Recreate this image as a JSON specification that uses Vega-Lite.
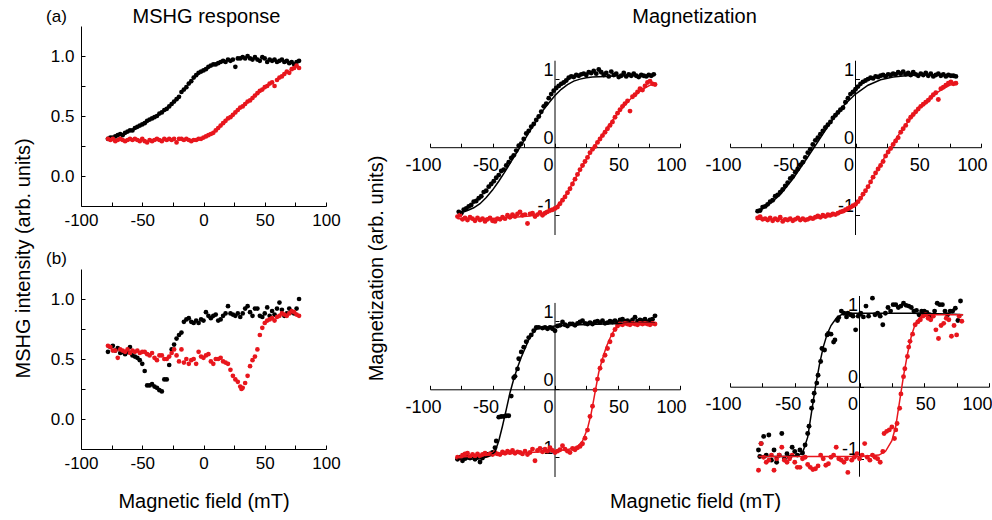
{
"$schema":"https://vega.github.io/schema/vega-lite/v6.json",
"padding":{"left":12,"top":6,"right":0,"bottom":0},
"background":"white",
"config":{"view":{"stroke":null},"font":"Liberation Sans",
"axis":{"domainColor":"black","tickColor":"black","labelColor":"black","titleColor":"black","labelFont":"Liberation Sans","titleFont":"Liberation Sans","titleFontWeight":"normal","titleFontSize":20,"grid":false,"domainWidth":1,"tickWidth":1},
"title":{"font":"Liberation Sans","fontWeight":"normal","color":"black"}},
"datasets":{
"a":[
{"x":-78,"y":0.31,"s":"b"},{"x":-76,"y":0.32,"s":"b"},{"x":-74,"y":0.32,"s":"b"},{"x":-72,"y":0.33,"s":"b"},{"x":-70,"y":0.34,"s":"b"},{"x":-68,"y":0.35,"s":"b"},{"x":-66,"y":0.34,"s":"b"},{"x":-64,"y":0.36,"s":"b"},{"x":-62,"y":0.37,"s":"b"},{"x":-60,"y":0.38,"s":"b"},{"x":-58,"y":0.38,"s":"b"},{"x":-56,"y":0.40,"s":"b"},{"x":-54,"y":0.41,"s":"b"},{"x":-52,"y":0.42,"s":"b"},{"x":-50,"y":0.43,"s":"b"},{"x":-48,"y":0.44,"s":"b"},{"x":-46,"y":0.46,"s":"b"},{"x":-44,"y":0.47,"s":"b"},{"x":-42,"y":0.48,"s":"b"},{"x":-40,"y":0.49,"s":"b"},{"x":-38,"y":0.50,"s":"b"},{"x":-36,"y":0.52,"s":"b"},{"x":-34,"y":0.53,"s":"b"},{"x":-32,"y":0.55,"s":"b"},{"x":-30,"y":0.56,"s":"b"},{"x":-28,"y":0.58,"s":"b"},{"x":-26,"y":0.60,"s":"b"},{"x":-24,"y":0.62,"s":"b"},{"x":-22,"y":0.64,"s":"b"},{"x":-20,"y":0.66,"s":"b"},{"x":-18,"y":0.70,"s":"b"},{"x":-16,"y":0.72,"s":"b"},{"x":-14,"y":0.74,"s":"b"},{"x":-12,"y":0.77,"s":"b"},{"x":-10,"y":0.79,"s":"b"},{"x":-8,"y":0.82,"s":"b"},{"x":-6,"y":0.84,"s":"b"},{"x":-4,"y":0.86,"s":"b"},{"x":-2,"y":0.87,"s":"b"},{"x":0,"y":0.88,"s":"b"},{"x":2,"y":0.89,"s":"b"},{"x":4,"y":0.91,"s":"b"},{"x":6,"y":0.92,"s":"b"},{"x":8,"y":0.93,"s":"b"},{"x":10,"y":0.93,"s":"b"},{"x":12,"y":0.94,"s":"b"},{"x":14,"y":0.95,"s":"b"},{"x":16,"y":0.96,"s":"b"},{"x":18,"y":0.95,"s":"b"},{"x":20,"y":0.97,"s":"b"},{"x":22,"y":0.96,"s":"b"},{"x":24,"y":0.97,"s":"b"},{"x":26,"y":0.91,"s":"b"},{"x":28,"y":0.98,"s":"b"},{"x":30,"y":0.98,"s":"b"},{"x":32,"y":0.99,"s":"b"},{"x":34,"y":0.98,"s":"b"},{"x":36,"y":1.0,"s":"b"},{"x":38,"y":0.98,"s":"b"},{"x":40,"y":0.97,"s":"b"},{"x":42,"y":0.99,"s":"b"},{"x":44,"y":0.97,"s":"b"},{"x":46,"y":0.96,"s":"b"},{"x":48,"y":0.99,"s":"b"},{"x":50,"y":0.98,"s":"b"},{"x":52,"y":0.95,"s":"b"},{"x":54,"y":0.97,"s":"b"},{"x":56,"y":0.96,"s":"b"},{"x":58,"y":0.97,"s":"b"},{"x":60,"y":0.95,"s":"b"},{"x":62,"y":0.96,"s":"b"},{"x":64,"y":0.97,"s":"b"},{"x":66,"y":0.95,"s":"b"},{"x":68,"y":0.96,"s":"b"},{"x":70,"y":0.94,"s":"b"},{"x":72,"y":0.95,"s":"b"},{"x":74,"y":0.93,"s":"b"},{"x":76,"y":0.95,"s":"b"},{"x":78,"y":0.96,"s":"b"},
{"x":-78,"y":0.31,"s":"r"},{"x":-76,"y":0.30,"s":"r"},{"x":-74,"y":0.31,"s":"r"},{"x":-72,"y":0.29,"s":"r"},{"x":-70,"y":0.30,"s":"r"},{"x":-68,"y":0.31,"s":"r"},{"x":-66,"y":0.30,"s":"r"},{"x":-64,"y":0.29,"s":"r"},{"x":-62,"y":0.30,"s":"r"},{"x":-60,"y":0.31,"s":"r"},{"x":-58,"y":0.30,"s":"r"},{"x":-56,"y":0.31,"s":"r"},{"x":-54,"y":0.30,"s":"r"},{"x":-52,"y":0.29,"s":"r"},{"x":-50,"y":0.31,"s":"r"},{"x":-48,"y":0.29,"s":"r"},{"x":-46,"y":0.28,"s":"r"},{"x":-44,"y":0.30,"s":"r"},{"x":-42,"y":0.29,"s":"r"},{"x":-40,"y":0.30,"s":"r"},{"x":-38,"y":0.31,"s":"r"},{"x":-36,"y":0.30,"s":"r"},{"x":-34,"y":0.29,"s":"r"},{"x":-32,"y":0.31,"s":"r"},{"x":-30,"y":0.30,"s":"r"},{"x":-28,"y":0.31,"s":"r"},{"x":-26,"y":0.30,"s":"r"},{"x":-24,"y":0.31,"s":"r"},{"x":-22,"y":0.28,"s":"r"},{"x":-20,"y":0.31,"s":"r"},{"x":-18,"y":0.31,"s":"r"},{"x":-16,"y":0.30,"s":"r"},{"x":-14,"y":0.31,"s":"r"},{"x":-12,"y":0.30,"s":"r"},{"x":-10,"y":0.29,"s":"r"},{"x":-8,"y":0.30,"s":"r"},{"x":-6,"y":0.30,"s":"r"},{"x":-4,"y":0.31,"s":"r"},{"x":-2,"y":0.31,"s":"r"},{"x":0,"y":0.32,"s":"r"},{"x":2,"y":0.33,"s":"r"},{"x":4,"y":0.34,"s":"r"},{"x":6,"y":0.35,"s":"r"},{"x":8,"y":0.36,"s":"r"},{"x":10,"y":0.38,"s":"r"},{"x":12,"y":0.40,"s":"r"},{"x":14,"y":0.42,"s":"r"},{"x":16,"y":0.44,"s":"r"},{"x":18,"y":0.46,"s":"r"},{"x":20,"y":0.48,"s":"r"},{"x":22,"y":0.49,"s":"r"},{"x":24,"y":0.51,"s":"r"},{"x":26,"y":0.53,"s":"r"},{"x":28,"y":0.55,"s":"r"},{"x":30,"y":0.57,"s":"r"},{"x":32,"y":0.58,"s":"r"},{"x":34,"y":0.60,"s":"r"},{"x":36,"y":0.62,"s":"r"},{"x":38,"y":0.63,"s":"r"},{"x":40,"y":0.65,"s":"r"},{"x":42,"y":0.67,"s":"r"},{"x":44,"y":0.69,"s":"r"},{"x":46,"y":0.71,"s":"r"},{"x":48,"y":0.72,"s":"r"},{"x":50,"y":0.74,"s":"r"},{"x":52,"y":0.75,"s":"r"},{"x":54,"y":0.77,"s":"r"},{"x":56,"y":0.78,"s":"r"},{"x":58,"y":0.75,"s":"r"},{"x":60,"y":0.80,"s":"r"},{"x":62,"y":0.82,"s":"r"},{"x":64,"y":0.83,"s":"r"},{"x":66,"y":0.85,"s":"r"},{"x":68,"y":0.87,"s":"r"},{"x":70,"y":0.86,"s":"r"},{"x":72,"y":0.89,"s":"r"},{"x":74,"y":0.90,"s":"r"},{"x":76,"y":0.92,"s":"r"},{"x":78,"y":0.90,"s":"r"}
],
"b":[
{"x":-78,"y":0.56,"s":"b"},{"x":-76,"y":0.60,"s":"b"},{"x":-74,"y":0.61,"s":"b"},{"x":-72,"y":0.57,"s":"b"},{"x":-70,"y":0.59,"s":"b"},{"x":-68,"y":0.55,"s":"b"},{"x":-66,"y":0.56,"s":"b"},{"x":-64,"y":0.54,"s":"b"},{"x":-62,"y":0.56,"s":"b"},{"x":-60,"y":0.60,"s":"b"},{"x":-58,"y":0.53,"s":"b"},{"x":-56,"y":0.52,"s":"b"},{"x":-54,"y":0.51,"s":"b"},{"x":-52,"y":0.49,"s":"b"},{"x":-50,"y":0.46,"s":"b"},{"x":-48,"y":0.40,"s":"b"},{"x":-46,"y":0.28,"s":"b"},{"x":-44,"y":0.28,"s":"b"},{"x":-42,"y":0.29,"s":"b"},{"x":-40,"y":0.27,"s":"b"},{"x":-38,"y":0.26,"s":"b"},{"x":-36,"y":0.24,"s":"b"},{"x":-34,"y":0.23,"s":"b"},{"x":-32,"y":0.33,"s":"b"},{"x":-30,"y":0.33,"s":"b"},{"x":-28,"y":0.45,"s":"b"},{"x":-26,"y":0.58,"s":"b"},{"x":-24,"y":0.62,"s":"b"},{"x":-22,"y":0.67,"s":"b"},{"x":-20,"y":0.70,"s":"b"},{"x":-18,"y":0.72,"s":"b"},{"x":-16,"y":0.81,"s":"b"},{"x":-14,"y":0.83,"s":"b"},{"x":-12,"y":0.84,"s":"b"},{"x":-10,"y":0.81,"s":"b"},{"x":-8,"y":0.80,"s":"b"},{"x":-6,"y":0.82,"s":"b"},{"x":-4,"y":0.80,"s":"b"},{"x":-2,"y":0.83,"s":"b"},{"x":0,"y":0.82,"s":"b"},{"x":2,"y":0.89,"s":"b"},{"x":4,"y":0.86,"s":"b"},{"x":6,"y":0.84,"s":"b"},{"x":8,"y":0.86,"s":"b"},{"x":10,"y":0.87,"s":"b"},{"x":12,"y":0.82,"s":"b"},{"x":14,"y":0.83,"s":"b"},{"x":16,"y":0.86,"s":"b"},{"x":18,"y":0.88,"s":"b"},{"x":20,"y":0.94,"s":"b"},{"x":22,"y":0.88,"s":"b"},{"x":24,"y":0.87,"s":"b"},{"x":26,"y":0.86,"s":"b"},{"x":28,"y":0.88,"s":"b"},{"x":30,"y":0.85,"s":"b"},{"x":32,"y":0.88,"s":"b"},{"x":34,"y":0.92,"s":"b"},{"x":36,"y":0.94,"s":"b"},{"x":38,"y":0.89,"s":"b"},{"x":40,"y":0.86,"s":"b"},{"x":42,"y":0.92,"s":"b"},{"x":44,"y":0.92,"s":"b"},{"x":46,"y":0.86,"s":"b"},{"x":48,"y":0.85,"s":"b"},{"x":50,"y":0.88,"s":"b"},{"x":52,"y":0.93,"s":"b"},{"x":54,"y":0.86,"s":"b"},{"x":56,"y":0.90,"s":"b"},{"x":58,"y":0.87,"s":"b"},{"x":60,"y":0.92,"s":"b"},{"x":62,"y":0.97,"s":"b"},{"x":64,"y":0.91,"s":"b"},{"x":66,"y":0.86,"s":"b"},{"x":68,"y":0.88,"s":"b"},{"x":70,"y":0.92,"s":"b"},{"x":72,"y":0.89,"s":"b"},{"x":74,"y":0.88,"s":"b"},{"x":76,"y":0.92,"s":"b"},{"x":78,"y":1.0,"s":"b"},
{"x":-78,"y":0.61,"s":"r"},{"x":-76,"y":0.60,"s":"r"},{"x":-74,"y":0.57,"s":"r"},{"x":-72,"y":0.57,"s":"r"},{"x":-70,"y":0.51,"s":"r"},{"x":-68,"y":0.58,"s":"r"},{"x":-66,"y":0.57,"s":"r"},{"x":-64,"y":0.56,"s":"r"},{"x":-62,"y":0.58,"s":"r"},{"x":-60,"y":0.55,"s":"r"},{"x":-58,"y":0.57,"s":"r"},{"x":-56,"y":0.56,"s":"r"},{"x":-54,"y":0.57,"s":"r"},{"x":-52,"y":0.55,"s":"r"},{"x":-50,"y":0.56,"s":"r"},{"x":-48,"y":0.56,"s":"r"},{"x":-46,"y":0.54,"s":"r"},{"x":-44,"y":0.53,"s":"r"},{"x":-42,"y":0.55,"s":"r"},{"x":-40,"y":0.51,"s":"r"},{"x":-38,"y":0.49,"s":"r"},{"x":-36,"y":0.53,"s":"r"},{"x":-34,"y":0.53,"s":"r"},{"x":-32,"y":0.50,"s":"r"},{"x":-30,"y":0.50,"s":"r"},{"x":-28,"y":0.52,"s":"r"},{"x":-26,"y":0.55,"s":"r"},{"x":-24,"y":0.58,"s":"r"},{"x":-22,"y":0.53,"s":"r"},{"x":-20,"y":0.48,"s":"r"},{"x":-18,"y":0.58,"s":"r"},{"x":-16,"y":0.47,"s":"r"},{"x":-14,"y":0.50,"s":"r"},{"x":-12,"y":0.46,"s":"r"},{"x":-10,"y":0.49,"s":"r"},{"x":-8,"y":0.50,"s":"r"},{"x":-6,"y":0.46,"s":"r"},{"x":-4,"y":0.56,"s":"r"},{"x":-2,"y":0.52,"s":"r"},{"x":0,"y":0.51,"s":"r"},{"x":2,"y":0.53,"s":"r"},{"x":4,"y":0.54,"s":"r"},{"x":6,"y":0.48,"s":"r"},{"x":8,"y":0.46,"s":"r"},{"x":10,"y":0.50,"s":"r"},{"x":12,"y":0.50,"s":"r"},{"x":14,"y":0.51,"s":"r"},{"x":16,"y":0.48,"s":"r"},{"x":18,"y":0.47,"s":"r"},{"x":20,"y":0.46,"s":"r"},{"x":22,"y":0.41,"s":"r"},{"x":24,"y":0.36,"s":"r"},{"x":26,"y":0.33,"s":"r"},{"x":28,"y":0.31,"s":"r"},{"x":30,"y":0.27,"s":"r"},{"x":31,"y":0.25,"s":"r"},{"x":32,"y":0.26,"s":"r"},{"x":34,"y":0.30,"s":"r"},{"x":36,"y":0.36,"s":"r"},{"x":38,"y":0.44,"s":"r"},{"x":40,"y":0.49,"s":"r"},{"x":42,"y":0.52,"s":"r"},{"x":44,"y":0.58,"s":"r"},{"x":46,"y":0.70,"s":"r"},{"x":48,"y":0.76,"s":"r"},{"x":50,"y":0.80,"s":"r"},{"x":52,"y":0.82,"s":"r"},{"x":54,"y":0.83,"s":"r"},{"x":56,"y":0.84,"s":"r"},{"x":58,"y":0.82,"s":"r"},{"x":60,"y":0.85,"s":"r"},{"x":62,"y":0.86,"s":"r"},{"x":64,"y":0.88,"s":"r"},{"x":66,"y":0.87,"s":"r"},{"x":68,"y":0.86,"s":"r"},{"x":70,"y":0.88,"s":"r"},{"x":72,"y":0.90,"s":"r"},{"x":74,"y":0.89,"s":"r"},{"x":76,"y":0.87,"s":"r"},{"x":78,"y":0.86,"s":"r"}
],
"tl":[
{"k":"ax","x":0,"y":-1.29,"y2":1.27},
{"k":"p","x":-77,"y":-0.95,"s":"b"},{"k":"p","x":-75,"y":-0.97,"s":"b"},{"k":"p","x":-73,"y":-0.92,"s":"b"},{"k":"p","x":-71,"y":-0.90,"s":"b"},{"k":"p","x":-69,"y":-0.87,"s":"b"},{"k":"p","x":-67,"y":-0.85,"s":"b"},{"k":"p","x":-65,"y":-0.80,"s":"b"},{"k":"p","x":-63,"y":-0.79,"s":"b"},{"k":"p","x":-61,"y":-0.75,"s":"b"},{"k":"p","x":-59,"y":-0.72,"s":"b"},{"k":"p","x":-57,"y":-0.66,"s":"b"},{"k":"p","x":-55,"y":-0.64,"s":"b"},{"k":"p","x":-53,"y":-0.58,"s":"b"},{"k":"p","x":-51,"y":-0.54,"s":"b"},{"k":"p","x":-49,"y":-0.50,"s":"b"},{"k":"p","x":-47,"y":-0.45,"s":"b"},{"k":"p","x":-45,"y":-0.41,"s":"b"},{"k":"p","x":-43,"y":-0.35,"s":"b"},{"k":"p","x":-41,"y":-0.33,"s":"b"},{"k":"p","x":-39,"y":-0.27,"s":"b"},{"k":"p","x":-37,"y":-0.22,"s":"b"},{"k":"p","x":-35,"y":-0.16,"s":"b"},{"k":"p","x":-33,"y":-0.12,"s":"b"},{"k":"p","x":-31,"y":-0.05,"s":"b"},{"k":"p","x":-29,"y":0.02,"s":"b"},{"k":"p","x":-27,"y":0.05,"s":"b"},{"k":"p","x":-25,"y":0.12,"s":"b"},{"k":"p","x":-23,"y":0.20,"s":"b"},{"k":"p","x":-21,"y":0.24,"s":"b"},{"k":"p","x":-19,"y":0.30,"s":"b"},{"k":"p","x":-17,"y":0.34,"s":"b"},{"k":"p","x":-15,"y":0.40,"s":"b"},{"k":"p","x":-13,"y":0.45,"s":"b"},{"k":"p","x":-11,"y":0.52,"s":"b"},{"k":"p","x":-9,"y":0.60,"s":"b"},{"k":"p","x":-7,"y":0.64,"s":"b"},{"k":"p","x":-5,"y":0.72,"s":"b"},{"k":"p","x":-3,"y":0.78,"s":"b"},{"k":"p","x":-1,"y":0.83,"s":"b"},{"k":"p","x":1,"y":0.87,"s":"b"},{"k":"p","x":3,"y":0.90,"s":"b"},{"k":"p","x":5,"y":0.93,"s":"b"},{"k":"p","x":7,"y":0.95,"s":"b"},{"k":"p","x":9,"y":0.98,"s":"b"},{"k":"p","x":11,"y":1.02,"s":"b"},{"k":"p","x":13,"y":1.04,"s":"b"},{"k":"p","x":15,"y":1.03,"s":"b"},{"k":"p","x":17,"y":1.06,"s":"b"},{"k":"p","x":19,"y":1.05,"s":"b"},{"k":"p","x":21,"y":1.07,"s":"b"},{"k":"p","x":23,"y":1.08,"s":"b"},{"k":"p","x":25,"y":1.06,"s":"b"},{"k":"p","x":27,"y":1.10,"s":"b"},{"k":"p","x":29,"y":1.09,"s":"b"},{"k":"p","x":31,"y":1.12,"s":"b"},{"k":"p","x":33,"y":1.08,"s":"b"},{"k":"p","x":35,"y":1.14,"s":"b"},{"k":"p","x":37,"y":1.10,"s":"b"},{"k":"p","x":39,"y":1.06,"s":"b"},{"k":"p","x":41,"y":1.09,"s":"b"},{"k":"p","x":43,"y":1.04,"s":"b"},{"k":"p","x":45,"y":1.11,"s":"b"},{"k":"p","x":47,"y":1.06,"s":"b"},{"k":"p","x":49,"y":1.08,"s":"b"},{"k":"p","x":51,"y":1.03,"s":"b"},{"k":"p","x":53,"y":1.05,"s":"b"},{"k":"p","x":55,"y":1.09,"s":"b"},{"k":"p","x":57,"y":1.04,"s":"b"},{"k":"p","x":59,"y":1.07,"s":"b"},{"k":"p","x":61,"y":1.05,"s":"b"},{"k":"p","x":63,"y":1.08,"s":"b"},{"k":"p","x":65,"y":1.05,"s":"b"},{"k":"p","x":67,"y":1.03,"s":"b"},{"k":"p","x":69,"y":1.06,"s":"b"},{"k":"p","x":71,"y":1.05,"s":"b"},{"k":"p","x":73,"y":1.04,"s":"b"},{"k":"p","x":75,"y":1.06,"s":"b"},{"k":"p","x":77,"y":1.05,"s":"b"},{"k":"p","x":79,"y":1.07,"s":"b"},
{"k":"p","x":-78,"y":-1.02,"s":"r"},{"k":"p","x":-76,"y":-1.00,"s":"r"},{"k":"p","x":-74,"y":-1.06,"s":"r"},{"k":"p","x":-72,"y":-1.04,"s":"r"},{"k":"p","x":-70,"y":-1.07,"s":"r"},{"k":"p","x":-68,"y":-1.03,"s":"r"},{"k":"p","x":-66,"y":-1.05,"s":"r"},{"k":"p","x":-64,"y":-1.08,"s":"r"},{"k":"p","x":-62,"y":-1.04,"s":"r"},{"k":"p","x":-60,"y":-1.07,"s":"r"},{"k":"p","x":-58,"y":-1.05,"s":"r"},{"k":"p","x":-56,"y":-1.09,"s":"r"},{"k":"p","x":-54,"y":-1.06,"s":"r"},{"k":"p","x":-52,"y":-1.04,"s":"r"},{"k":"p","x":-50,"y":-1.08,"s":"r"},{"k":"p","x":-48,"y":-1.09,"s":"r"},{"k":"p","x":-46,"y":-1.05,"s":"r"},{"k":"p","x":-44,"y":-1.06,"s":"r"},{"k":"p","x":-42,"y":-1.03,"s":"r"},{"k":"p","x":-40,"y":-1.05,"s":"r"},{"k":"p","x":-38,"y":-1.00,"s":"r"},{"k":"p","x":-36,"y":-1.03,"s":"r"},{"k":"p","x":-34,"y":-0.99,"s":"r"},{"k":"p","x":-32,"y":-1.02,"s":"r"},{"k":"p","x":-30,"y":-0.98,"s":"r"},{"k":"p","x":-28,"y":-0.95,"s":"r"},{"k":"p","x":-26,"y":-1.00,"s":"r"},{"k":"p","x":-24,"y":-0.99,"s":"r"},{"k":"p","x":-22,"y":-1.12,"s":"r"},{"k":"p","x":-20,"y":-0.98,"s":"r"},{"k":"p","x":-18,"y":-0.97,"s":"r"},{"k":"p","x":-16,"y":-1.02,"s":"r"},{"k":"p","x":-14,"y":-0.99,"s":"r"},{"k":"p","x":-12,"y":-0.96,"s":"r"},{"k":"p","x":-10,"y":-1.00,"s":"r"},{"k":"p","x":-8,"y":-0.97,"s":"r"},{"k":"p","x":-6,"y":-0.95,"s":"r"},{"k":"p","x":-4,"y":-0.93,"s":"r"},{"k":"p","x":-2,"y":-0.92,"s":"r"},{"k":"p","x":0,"y":-0.90,"s":"r"},{"k":"p","x":2,"y":-0.88,"s":"r"},{"k":"p","x":4,"y":-0.83,"s":"r"},{"k":"p","x":6,"y":-0.78,"s":"r"},{"k":"p","x":8,"y":-0.73,"s":"r"},{"k":"p","x":10,"y":-0.67,"s":"r"},{"k":"p","x":12,"y":-0.61,"s":"r"},{"k":"p","x":14,"y":-0.54,"s":"r"},{"k":"p","x":16,"y":-0.47,"s":"r"},{"k":"p","x":18,"y":-0.40,"s":"r"},{"k":"p","x":20,"y":-0.33,"s":"r"},{"k":"p","x":22,"y":-0.27,"s":"r"},{"k":"p","x":24,"y":-0.21,"s":"r"},{"k":"p","x":26,"y":-0.15,"s":"r"},{"k":"p","x":28,"y":-0.08,"s":"r"},{"k":"p","x":30,"y":-0.03,"s":"r"},{"k":"p","x":32,"y":0.01,"s":"r"},{"k":"p","x":34,"y":0.07,"s":"r"},{"k":"p","x":36,"y":0.12,"s":"r"},{"k":"p","x":38,"y":0.17,"s":"r"},{"k":"p","x":40,"y":0.22,"s":"r"},{"k":"p","x":42,"y":0.27,"s":"r"},{"k":"p","x":44,"y":0.32,"s":"r"},{"k":"p","x":46,"y":0.37,"s":"r"},{"k":"p","x":48,"y":0.44,"s":"r"},{"k":"p","x":50,"y":0.50,"s":"r"},{"k":"p","x":52,"y":0.55,"s":"r"},{"k":"p","x":54,"y":0.60,"s":"r"},{"k":"p","x":56,"y":0.64,"s":"r"},{"k":"p","x":58,"y":0.68,"s":"r"},{"k":"p","x":60,"y":0.53,"s":"r"},{"k":"p","x":62,"y":0.74,"s":"r"},{"k":"p","x":64,"y":0.77,"s":"r"},{"k":"p","x":66,"y":0.81,"s":"r"},{"k":"p","x":68,"y":0.86,"s":"r"},{"k":"p","x":70,"y":0.84,"s":"r"},{"k":"p","x":72,"y":0.90,"s":"r"},{"k":"p","x":74,"y":0.95,"s":"r"},{"k":"p","x":76,"y":0.97,"s":"r"},{"k":"p","x":78,"y":0.93,"s":"r"},{"k":"p","x":80,"y":0.92,"s":"r"},
{"k":"f","x":-76,"y":-0.97,"s":"b"},{"k":"f","x":-70,"y":-0.93,"s":"b"},{"k":"f","x":-65,"y":-0.89,"s":"b"},{"k":"f","x":-60,"y":-0.83,"s":"b"},{"k":"f","x":-55,"y":-0.74,"s":"b"},{"k":"f","x":-50,"y":-0.63,"s":"b"},{"k":"f","x":-45,"y":-0.50,"s":"b"},{"k":"f","x":-40,"y":-0.36,"s":"b"},{"k":"f","x":-35,"y":-0.21,"s":"b"},{"k":"f","x":-30,"y":-0.06,"s":"b"},{"k":"f","x":-25,"y":0.09,"s":"b"},{"k":"f","x":-20,"y":0.24,"s":"b"},{"k":"f","x":-15,"y":0.39,"s":"b"},{"k":"f","x":-10,"y":0.53,"s":"b"},{"k":"f","x":-5,"y":0.65,"s":"b"},{"k":"f","x":0,"y":0.76,"s":"b"},{"k":"f","x":5,"y":0.85,"s":"b"},{"k":"f","x":10,"y":0.92,"s":"b"},{"k":"f","x":15,"y":0.97,"s":"b"},{"k":"f","x":20,"y":1.0,"s":"b"},{"k":"f","x":25,"y":1.02,"s":"b"},{"k":"f","x":30,"y":1.03,"s":"b"},{"k":"f","x":40,"y":1.04,"s":"b"},{"k":"f","x":50,"y":1.05,"s":"b"},{"k":"f","x":79,"y":1.05,"s":"b"},
{"k":"f","x":-78,"y":-1.05,"s":"r"},{"k":"f","x":-60,"y":-1.05,"s":"r"},{"k":"f","x":-40,"y":-1.04,"s":"r"},{"k":"f","x":-20,"y":-1.01,"s":"r"},{"k":"f","x":-10,"y":-0.97,"s":"r"},{"k":"f","x":-5,"y":-0.94,"s":"r"},{"k":"f","x":0,"y":-0.89,"s":"r"},{"k":"f","x":5,"y":-0.79,"s":"r"},{"k":"f","x":10,"y":-0.66,"s":"r"},{"k":"f","x":15,"y":-0.50,"s":"r"},{"k":"f","x":20,"y":-0.34,"s":"r"},{"k":"f","x":25,"y":-0.18,"s":"r"},{"k":"f","x":30,"y":-0.03,"s":"r"},{"k":"f","x":35,"y":0.11,"s":"r"},{"k":"f","x":40,"y":0.24,"s":"r"},{"k":"f","x":45,"y":0.37,"s":"r"},{"k":"f","x":50,"y":0.49,"s":"r"},{"k":"f","x":55,"y":0.60,"s":"r"},{"k":"f","x":60,"y":0.70,"s":"r"},{"k":"f","x":65,"y":0.78,"s":"r"},{"k":"f","x":70,"y":0.85,"s":"r"},{"k":"f","x":75,"y":0.90,"s":"r"},{"k":"f","x":80,"y":0.94,"s":"r"}
],
"tr":[
{"k":"ax","x":0,"y":-1.29,"y2":1.27},
{"k":"p","x":-78,"y":-0.94,"s":"b"},{"k":"p","x":-76,"y":-0.93,"s":"b"},{"k":"p","x":-74,"y":-0.88,"s":"b"},{"k":"p","x":-72,"y":-0.87,"s":"b"},{"k":"p","x":-70,"y":-0.84,"s":"b"},{"k":"p","x":-68,"y":-0.80,"s":"b"},{"k":"p","x":-66,"y":-0.78,"s":"b"},{"k":"p","x":-64,"y":-0.72,"s":"b"},{"k":"p","x":-62,"y":-0.70,"s":"b"},{"k":"p","x":-60,"y":-0.66,"s":"b"},{"k":"p","x":-58,"y":-0.62,"s":"b"},{"k":"p","x":-56,"y":-0.57,"s":"b"},{"k":"p","x":-54,"y":-0.52,"s":"b"},{"k":"p","x":-52,"y":-0.46,"s":"b"},{"k":"p","x":-50,"y":-0.43,"s":"b"},{"k":"p","x":-48,"y":-0.37,"s":"b"},{"k":"p","x":-46,"y":-0.32,"s":"b"},{"k":"p","x":-44,"y":-0.26,"s":"b"},{"k":"p","x":-42,"y":-0.22,"s":"b"},{"k":"p","x":-40,"y":-0.15,"s":"b"},{"k":"p","x":-38,"y":-0.08,"s":"b"},{"k":"p","x":-36,"y":-0.03,"s":"b"},{"k":"p","x":-34,"y":0.04,"s":"b"},{"k":"p","x":-32,"y":0.10,"s":"b"},{"k":"p","x":-30,"y":0.14,"s":"b"},{"k":"p","x":-28,"y":0.19,"s":"b"},{"k":"p","x":-26,"y":0.24,"s":"b"},{"k":"p","x":-24,"y":0.29,"s":"b"},{"k":"p","x":-22,"y":0.33,"s":"b"},{"k":"p","x":-20,"y":0.37,"s":"b"},{"k":"p","x":-18,"y":0.43,"s":"b"},{"k":"p","x":-16,"y":0.47,"s":"b"},{"k":"p","x":-14,"y":0.51,"s":"b"},{"k":"p","x":-12,"y":0.55,"s":"b"},{"k":"p","x":-10,"y":0.58,"s":"b"},{"k":"p","x":-8,"y":0.66,"s":"b"},{"k":"p","x":-6,"y":0.72,"s":"b"},{"k":"p","x":-4,"y":0.78,"s":"b"},{"k":"p","x":-2,"y":0.81,"s":"b"},{"k":"p","x":0,"y":0.85,"s":"b"},{"k":"p","x":2,"y":0.89,"s":"b"},{"k":"p","x":4,"y":0.93,"s":"b"},{"k":"p","x":6,"y":0.96,"s":"b"},{"k":"p","x":8,"y":0.98,"s":"b"},{"k":"p","x":10,"y":1.0,"s":"b"},{"k":"p","x":12,"y":1.02,"s":"b"},{"k":"p","x":14,"y":1.01,"s":"b"},{"k":"p","x":16,"y":1.04,"s":"b"},{"k":"p","x":18,"y":1.03,"s":"b"},{"k":"p","x":20,"y":1.05,"s":"b"},{"k":"p","x":22,"y":1.06,"s":"b"},{"k":"p","x":24,"y":1.04,"s":"b"},{"k":"p","x":26,"y":1.07,"s":"b"},{"k":"p","x":28,"y":1.06,"s":"b"},{"k":"p","x":30,"y":1.08,"s":"b"},{"k":"p","x":32,"y":1.07,"s":"b"},{"k":"p","x":34,"y":1.10,"s":"b"},{"k":"p","x":36,"y":1.08,"s":"b"},{"k":"p","x":38,"y":1.11,"s":"b"},{"k":"p","x":40,"y":1.07,"s":"b"},{"k":"p","x":42,"y":1.09,"s":"b"},{"k":"p","x":44,"y":1.06,"s":"b"},{"k":"p","x":46,"y":1.10,"s":"b"},{"k":"p","x":48,"y":1.07,"s":"b"},{"k":"p","x":50,"y":1.05,"s":"b"},{"k":"p","x":52,"y":1.08,"s":"b"},{"k":"p","x":54,"y":1.06,"s":"b"},{"k":"p","x":56,"y":1.09,"s":"b"},{"k":"p","x":58,"y":1.05,"s":"b"},{"k":"p","x":60,"y":1.08,"s":"b"},{"k":"p","x":62,"y":1.04,"s":"b"},{"k":"p","x":64,"y":1.06,"s":"b"},{"k":"p","x":66,"y":1.08,"s":"b"},{"k":"p","x":68,"y":1.05,"s":"b"},{"k":"p","x":70,"y":1.07,"s":"b"},{"k":"p","x":72,"y":1.04,"s":"b"},{"k":"p","x":74,"y":1.06,"s":"b"},{"k":"p","x":76,"y":1.05,"s":"b"},{"k":"p","x":78,"y":1.05,"s":"b"},{"k":"p","x":80,"y":1.04,"s":"b"},
{"k":"p","x":-78,"y":-1.04,"s":"r"},{"k":"p","x":-76,"y":-1.02,"s":"r"},{"k":"p","x":-74,"y":-1.06,"s":"r"},{"k":"p","x":-72,"y":-1.05,"s":"r"},{"k":"p","x":-70,"y":-1.07,"s":"r"},{"k":"p","x":-68,"y":-1.04,"s":"r"},{"k":"p","x":-66,"y":-1.08,"s":"r"},{"k":"p","x":-64,"y":-1.05,"s":"r"},{"k":"p","x":-62,"y":-1.07,"s":"r"},{"k":"p","x":-60,"y":-1.03,"s":"r"},{"k":"p","x":-58,"y":-1.09,"s":"r"},{"k":"p","x":-56,"y":-1.06,"s":"r"},{"k":"p","x":-54,"y":-1.07,"s":"r"},{"k":"p","x":-52,"y":-1.05,"s":"r"},{"k":"p","x":-50,"y":-1.08,"s":"r"},{"k":"p","x":-48,"y":-1.06,"s":"r"},{"k":"p","x":-46,"y":-1.04,"s":"r"},{"k":"p","x":-44,"y":-1.07,"s":"r"},{"k":"p","x":-42,"y":-1.05,"s":"r"},{"k":"p","x":-40,"y":-1.07,"s":"r"},{"k":"p","x":-38,"y":-1.06,"s":"r"},{"k":"p","x":-36,"y":-1.04,"s":"r"},{"k":"p","x":-34,"y":-1.05,"s":"r"},{"k":"p","x":-32,"y":-1.03,"s":"r"},{"k":"p","x":-30,"y":-1.01,"s":"r"},{"k":"p","x":-28,"y":-1.03,"s":"r"},{"k":"p","x":-26,"y":-1.00,"s":"r"},{"k":"p","x":-24,"y":-1.02,"s":"r"},{"k":"p","x":-22,"y":-0.99,"s":"r"},{"k":"p","x":-20,"y":-1.00,"s":"r"},{"k":"p","x":-18,"y":-0.98,"s":"r"},{"k":"p","x":-16,"y":-0.99,"s":"r"},{"k":"p","x":-14,"y":-0.97,"s":"r"},{"k":"p","x":-12,"y":-0.95,"s":"r"},{"k":"p","x":-10,"y":-0.94,"s":"r"},{"k":"p","x":-8,"y":-0.92,"s":"r"},{"k":"p","x":-6,"y":-0.90,"s":"r"},{"k":"p","x":-4,"y":-0.88,"s":"r"},{"k":"p","x":-2,"y":-0.86,"s":"r"},{"k":"p","x":0,"y":-0.84,"s":"r"},{"k":"p","x":2,"y":-0.80,"s":"r"},{"k":"p","x":4,"y":-0.75,"s":"r"},{"k":"p","x":6,"y":-0.69,"s":"r"},{"k":"p","x":8,"y":-0.64,"s":"r"},{"k":"p","x":10,"y":-0.58,"s":"r"},{"k":"p","x":12,"y":-0.51,"s":"r"},{"k":"p","x":14,"y":-0.44,"s":"r"},{"k":"p","x":16,"y":-0.38,"s":"r"},{"k":"p","x":18,"y":-0.32,"s":"r"},{"k":"p","x":20,"y":-0.27,"s":"r"},{"k":"p","x":22,"y":-0.21,"s":"r"},{"k":"p","x":24,"y":-0.13,"s":"r"},{"k":"p","x":26,"y":-0.07,"s":"r"},{"k":"p","x":28,"y":-0.02,"s":"r"},{"k":"p","x":30,"y":0.04,"s":"r"},{"k":"p","x":32,"y":0.09,"s":"r"},{"k":"p","x":34,"y":0.14,"s":"r"},{"k":"p","x":36,"y":0.22,"s":"r"},{"k":"p","x":38,"y":0.27,"s":"r"},{"k":"p","x":40,"y":0.32,"s":"r"},{"k":"p","x":42,"y":0.39,"s":"r"},{"k":"p","x":44,"y":0.44,"s":"r"},{"k":"p","x":46,"y":0.48,"s":"r"},{"k":"p","x":48,"y":0.52,"s":"r"},{"k":"p","x":50,"y":0.56,"s":"r"},{"k":"p","x":52,"y":0.60,"s":"r"},{"k":"p","x":54,"y":0.63,"s":"r"},{"k":"p","x":56,"y":0.66,"s":"r"},{"k":"p","x":58,"y":0.69,"s":"r"},{"k":"p","x":60,"y":0.73,"s":"r"},{"k":"p","x":62,"y":0.77,"s":"r"},{"k":"p","x":64,"y":0.80,"s":"r"},{"k":"p","x":66,"y":0.70,"s":"r"},{"k":"p","x":68,"y":0.86,"s":"r"},{"k":"p","x":70,"y":0.88,"s":"r"},{"k":"p","x":72,"y":0.91,"s":"r"},{"k":"p","x":74,"y":0.94,"s":"r"},{"k":"p","x":76,"y":0.96,"s":"r"},{"k":"p","x":78,"y":0.93,"s":"r"},{"k":"p","x":80,"y":0.94,"s":"r"},
{"k":"f","x":-78,"y":-0.95,"s":"b"},{"k":"f","x":-70,"y":-0.86,"s":"b"},{"k":"f","x":-60,"y":-0.70,"s":"b"},{"k":"f","x":-50,"y":-0.47,"s":"b"},{"k":"f","x":-40,"y":-0.20,"s":"b"},{"k":"f","x":-30,"y":0.08,"s":"b"},{"k":"f","x":-20,"y":0.36,"s":"b"},{"k":"f","x":-10,"y":0.60,"s":"b"},{"k":"f","x":0,"y":0.78,"s":"b"},{"k":"f","x":10,"y":0.91,"s":"b"},{"k":"f","x":20,"y":0.99,"s":"b"},{"k":"f","x":30,"y":1.03,"s":"b"},{"k":"f","x":40,"y":1.05,"s":"b"},{"k":"f","x":50,"y":1.06,"s":"b"},{"k":"f","x":80,"y":1.06,"s":"b"},
{"k":"f","x":-78,"y":-1.06,"s":"r"},{"k":"f","x":-40,"y":-1.06,"s":"r"},{"k":"f","x":-20,"y":-1.02,"s":"r"},{"k":"f","x":-10,"y":-0.96,"s":"r"},{"k":"f","x":-5,"y":-0.92,"s":"r"},{"k":"f","x":0,"y":-0.86,"s":"r"},{"k":"f","x":5,"y":-0.74,"s":"r"},{"k":"f","x":10,"y":-0.58,"s":"r"},{"k":"f","x":15,"y":-0.41,"s":"r"},{"k":"f","x":20,"y":-0.25,"s":"r"},{"k":"f","x":25,"y":-0.09,"s":"r"},{"k":"f","x":30,"y":0.06,"s":"r"},{"k":"f","x":35,"y":0.20,"s":"r"},{"k":"f","x":40,"y":0.33,"s":"r"},{"k":"f","x":45,"y":0.45,"s":"r"},{"k":"f","x":50,"y":0.56,"s":"r"},{"k":"f","x":55,"y":0.65,"s":"r"},{"k":"f","x":60,"y":0.73,"s":"r"},{"k":"f","x":65,"y":0.80,"s":"r"},{"k":"f","x":70,"y":0.86,"s":"r"},{"k":"f","x":75,"y":0.91,"s":"r"},{"k":"f","x":80,"y":0.94,"s":"r"}
],
"bl":[
{"k":"ax","x":0,"y":-1.29,"y2":1.27},
{"k":"p","x":-78,"y":-1.03,"s":"b"},{"k":"p","x":-76,"y":-1.00,"s":"b"},{"k":"p","x":-74,"y":-1.05,"s":"b"},{"k":"p","x":-72,"y":-1.02,"s":"b"},{"k":"p","x":-70,"y":-0.99,"s":"b"},{"k":"p","x":-68,"y":-1.01,"s":"b"},{"k":"p","x":-66,"y":-0.98,"s":"b"},{"k":"p","x":-64,"y":-1.03,"s":"b"},{"k":"p","x":-62,"y":-1.00,"s":"b"},{"k":"p","x":-60,"y":-1.07,"s":"b"},{"k":"p","x":-58,"y":-1.01,"s":"b"},{"k":"p","x":-56,"y":-0.98,"s":"b"},{"k":"p","x":-54,"y":-0.96,"s":"b"},{"k":"p","x":-52,"y":-0.95,"s":"b"},{"k":"p","x":-50,"y":-0.93,"s":"b"},{"k":"p","x":-48,"y":-0.86,"s":"b"},{"k":"p","x":-47,"y":-0.76,"s":"b"},{"k":"p","x":-45,"y":-0.41,"s":"b"},{"k":"p","x":-43,"y":-0.40,"s":"b"},{"k":"p","x":-41,"y":-0.40,"s":"b"},{"k":"p","x":-39,"y":-0.39,"s":"b"},{"k":"p","x":-37,"y":-0.39,"s":"b"},{"k":"p","x":-35,"y":-0.10,"s":"b"},{"k":"p","x":-33,"y":0.17,"s":"b"},{"k":"p","x":-32,"y":0.19,"s":"b"},{"k":"p","x":-30,"y":0.30,"s":"b"},{"k":"p","x":-29,"y":0.45,"s":"b"},{"k":"p","x":-27,"y":0.55,"s":"b"},{"k":"p","x":-25,"y":0.62,"s":"b"},{"k":"p","x":-23,"y":0.70,"s":"b"},{"k":"p","x":-21,"y":0.76,"s":"b"},{"k":"p","x":-19,"y":0.80,"s":"b"},{"k":"p","x":-17,"y":0.86,"s":"b"},{"k":"p","x":-15,"y":0.91,"s":"b"},{"k":"p","x":-13,"y":0.91,"s":"b"},{"k":"p","x":-10,"y":0.90,"s":"b"},{"k":"p","x":-8,"y":0.91,"s":"b"},{"k":"p","x":-6,"y":0.89,"s":"b"},{"k":"p","x":-4,"y":0.91,"s":"b"},{"k":"p","x":-2,"y":0.89,"s":"b"},{"k":"p","x":0,"y":0.86,"s":"b"},{"k":"p","x":2,"y":0.93,"s":"b"},{"k":"p","x":4,"y":0.94,"s":"b"},{"k":"p","x":6,"y":0.99,"s":"b"},{"k":"p","x":8,"y":0.95,"s":"b"},{"k":"p","x":10,"y":0.93,"s":"b"},{"k":"p","x":12,"y":0.96,"s":"b"},{"k":"p","x":14,"y":0.96,"s":"b"},{"k":"p","x":16,"y":0.94,"s":"b"},{"k":"p","x":18,"y":0.97,"s":"b"},{"k":"p","x":20,"y":0.99,"s":"b"},{"k":"p","x":22,"y":1.01,"s":"b"},{"k":"p","x":24,"y":0.97,"s":"b"},{"k":"p","x":26,"y":0.96,"s":"b"},{"k":"p","x":28,"y":0.98,"s":"b"},{"k":"p","x":30,"y":0.96,"s":"b"},{"k":"p","x":32,"y":0.99,"s":"b"},{"k":"p","x":34,"y":1.00,"s":"b"},{"k":"p","x":36,"y":0.98,"s":"b"},{"k":"p","x":38,"y":1.01,"s":"b"},{"k":"p","x":40,"y":0.97,"s":"b"},{"k":"p","x":42,"y":0.98,"s":"b"},{"k":"p","x":44,"y":1.00,"s":"b"},{"k":"p","x":46,"y":0.99,"s":"b"},{"k":"p","x":48,"y":1.01,"s":"b"},{"k":"p","x":50,"y":0.98,"s":"b"},{"k":"p","x":52,"y":1.02,"s":"b"},{"k":"p","x":54,"y":1.03,"s":"b"},{"k":"p","x":56,"y":1.00,"s":"b"},{"k":"p","x":58,"y":1.01,"s":"b"},{"k":"p","x":60,"y":0.99,"s":"b"},{"k":"p","x":62,"y":1.02,"s":"b"},{"k":"p","x":64,"y":1.06,"s":"b"},{"k":"p","x":66,"y":1.00,"s":"b"},{"k":"p","x":68,"y":1.02,"s":"b"},{"k":"p","x":70,"y":1.01,"s":"b"},{"k":"p","x":72,"y":1.03,"s":"b"},{"k":"p","x":74,"y":0.99,"s":"b"},{"k":"p","x":76,"y":1.02,"s":"b"},{"k":"p","x":78,"y":1.03,"s":"b"},{"k":"p","x":80,"y":1.08,"s":"b"},
{"k":"p","x":-78,"y":-1.00,"s":"r"},{"k":"p","x":-76,"y":-1.01,"s":"r"},{"k":"p","x":-74,"y":-0.97,"s":"r"},{"k":"p","x":-72,"y":-0.95,"s":"r"},{"k":"p","x":-70,"y":-0.94,"s":"r"},{"k":"p","x":-68,"y":-0.99,"s":"r"},{"k":"p","x":-66,"y":-0.96,"s":"r"},{"k":"p","x":-64,"y":-0.98,"s":"r"},{"k":"p","x":-62,"y":-0.95,"s":"r"},{"k":"p","x":-60,"y":-0.98,"s":"r"},{"k":"p","x":-58,"y":-0.96,"s":"r"},{"k":"p","x":-56,"y":-0.94,"s":"r"},{"k":"p","x":-54,"y":-0.97,"s":"r"},{"k":"p","x":-52,"y":-0.95,"s":"r"},{"k":"p","x":-50,"y":-0.96,"s":"r"},{"k":"p","x":-48,"y":-0.93,"s":"r"},{"k":"p","x":-46,"y":-0.95,"s":"r"},{"k":"p","x":-44,"y":-0.96,"s":"r"},{"k":"p","x":-42,"y":-0.92,"s":"r"},{"k":"p","x":-40,"y":-0.94,"s":"r"},{"k":"p","x":-38,"y":-0.91,"s":"r"},{"k":"p","x":-36,"y":-0.93,"s":"r"},{"k":"p","x":-34,"y":-0.90,"s":"r"},{"k":"p","x":-32,"y":-0.94,"s":"r"},{"k":"p","x":-30,"y":-0.92,"s":"r"},{"k":"p","x":-28,"y":-0.93,"s":"r"},{"k":"p","x":-26,"y":-0.95,"s":"r"},{"k":"p","x":-24,"y":-0.91,"s":"r"},{"k":"p","x":-22,"y":-0.96,"s":"r"},{"k":"p","x":-20,"y":-0.93,"s":"r"},{"k":"p","x":-18,"y":-0.88,"s":"r"},{"k":"p","x":-16,"y":-1.05,"s":"r"},{"k":"p","x":-14,"y":-0.90,"s":"r"},{"k":"p","x":-12,"y":-0.87,"s":"r"},{"k":"p","x":-10,"y":-0.92,"s":"r"},{"k":"p","x":-8,"y":-0.88,"s":"r"},{"k":"p","x":-6,"y":-0.91,"s":"r"},{"k":"p","x":-4,"y":-0.86,"s":"r"},{"k":"p","x":-2,"y":-0.90,"s":"r"},{"k":"p","x":0,"y":-0.93,"s":"r"},{"k":"p","x":2,"y":-0.91,"s":"r"},{"k":"p","x":4,"y":-0.89,"s":"r"},{"k":"p","x":6,"y":-0.83,"s":"r"},{"k":"p","x":8,"y":-0.88,"s":"r"},{"k":"p","x":10,"y":-0.91,"s":"r"},{"k":"p","x":12,"y":-0.93,"s":"r"},{"k":"p","x":14,"y":-0.87,"s":"r"},{"k":"p","x":16,"y":-0.89,"s":"r"},{"k":"p","x":18,"y":-0.86,"s":"r"},{"k":"p","x":20,"y":-0.84,"s":"r"},{"k":"p","x":22,"y":-0.80,"s":"r"},{"k":"p","x":24,"y":-0.72,"s":"r"},{"k":"p","x":26,"y":-0.60,"s":"r"},{"k":"p","x":28,"y":-0.40,"s":"r"},{"k":"p","x":30,"y":-0.25,"s":"r"},{"k":"p","x":32,"y":-0.01,"s":"r"},{"k":"p","x":34,"y":0.15,"s":"r"},{"k":"p","x":36,"y":0.31,"s":"r"},{"k":"p","x":38,"y":0.42,"s":"r"},{"k":"p","x":40,"y":0.50,"s":"r"},{"k":"p","x":42,"y":0.60,"s":"r"},{"k":"p","x":44,"y":0.70,"s":"r"},{"k":"p","x":46,"y":0.80,"s":"r"},{"k":"p","x":48,"y":0.88,"s":"r"},{"k":"p","x":50,"y":0.93,"s":"r"},{"k":"p","x":52,"y":0.96,"s":"r"},{"k":"p","x":54,"y":0.95,"s":"r"},{"k":"p","x":56,"y":0.97,"s":"r"},{"k":"p","x":58,"y":0.96,"s":"r"},{"k":"p","x":60,"y":0.95,"s":"r"},{"k":"p","x":62,"y":0.97,"s":"r"},{"k":"p","x":64,"y":0.96,"s":"r"},{"k":"p","x":66,"y":0.95,"s":"r"},{"k":"p","x":68,"y":0.97,"s":"r"},{"k":"p","x":70,"y":0.96,"s":"r"},{"k":"p","x":72,"y":0.97,"s":"r"},{"k":"p","x":74,"y":0.96,"s":"r"},{"k":"p","x":76,"y":0.95,"s":"r"},{"k":"p","x":78,"y":0.97,"s":"r"},{"k":"p","x":80,"y":0.96,"s":"r"},
{"k":"f","x":-78,"y":-1.03,"s":"b"},{"k":"f","x":-60,"y":-1.02,"s":"b"},{"k":"f","x":-52,"y":-0.98,"s":"b"},{"k":"f","x":-48,"y":-0.92,"s":"b"},{"k":"f","x":-45,"y":-0.76,"s":"b"},{"k":"f","x":-42,"y":-0.54,"s":"b"},{"k":"f","x":-39,"y":-0.30,"s":"b"},{"k":"f","x":-36,"y":-0.05,"s":"b"},{"k":"f","x":-33,"y":0.15,"s":"b"},{"k":"f","x":-30,"y":0.32,"s":"b"},{"k":"f","x":-27,"y":0.47,"s":"b"},{"k":"f","x":-24,"y":0.60,"s":"b"},{"k":"f","x":-21,"y":0.73,"s":"b"},{"k":"f","x":-18,"y":0.82,"s":"b"},{"k":"f","x":-15,"y":0.88,"s":"b"},{"k":"f","x":-12,"y":0.91,"s":"b"},{"k":"f","x":-5,"y":0.92,"s":"b"},{"k":"f","x":0,"y":0.93,"s":"b"},{"k":"f","x":20,"y":0.95,"s":"b"},{"k":"f","x":40,"y":0.96,"s":"b"},{"k":"f","x":60,"y":0.97,"s":"b"},{"k":"f","x":80,"y":0.98,"s":"b"},
{"k":"f","x":-78,"y":-1.00,"s":"r"},{"k":"f","x":-40,"y":-0.95,"s":"r"},{"k":"f","x":-10,"y":-0.92,"s":"r"},{"k":"f","x":10,"y":-0.89,"s":"r"},{"k":"f","x":18,"y":-0.84,"s":"r"},{"k":"f","x":22,"y":-0.76,"s":"r"},{"k":"f","x":26,"y":-0.58,"s":"r"},{"k":"f","x":29,"y":-0.35,"s":"r"},{"k":"f","x":32,"y":-0.05,"s":"r"},{"k":"f","x":35,"y":0.25,"s":"r"},{"k":"f","x":38,"y":0.45,"s":"r"},{"k":"f","x":41,"y":0.62,"s":"r"},{"k":"f","x":44,"y":0.75,"s":"r"},{"k":"f","x":47,"y":0.86,"s":"r"},{"k":"f","x":50,"y":0.93,"s":"r"},{"k":"f","x":55,"y":0.96,"s":"r"},{"k":"f","x":65,"y":0.97,"s":"r"},{"k":"f","x":80,"y":0.97,"s":"r"}
],
"br":[
{"k":"ax","x":0,"y":-1.25,"y2":1.26},
{"k":"p","x":-78,"y":-0.88,"s":"b"},{"k":"p","x":-77,"y":-0.97,"s":"b"},{"k":"p","x":-76,"y":-0.79,"s":"b"},{"k":"p","x":-74,"y":-0.69,"s":"b"},{"k":"p","x":-72,"y":-0.95,"s":"b"},{"k":"p","x":-70,"y":-0.67,"s":"b"},{"k":"p","x":-68,"y":-1.02,"s":"b"},{"k":"p","x":-66,"y":-0.88,"s":"b"},{"k":"p","x":-64,"y":-1.05,"s":"b"},{"k":"p","x":-62,"y":-0.95,"s":"b"},{"k":"p","x":-60,"y":-0.65,"s":"b"},{"k":"p","x":-58,"y":-1.00,"s":"b"},{"k":"p","x":-56,"y":-0.93,"s":"b"},{"k":"p","x":-54,"y":-0.98,"s":"b"},{"k":"p","x":-52,"y":-0.84,"s":"b"},{"k":"p","x":-50,"y":-0.90,"s":"b"},{"k":"p","x":-48,"y":-0.95,"s":"b"},{"k":"p","x":-46,"y":-0.88,"s":"b"},{"k":"p","x":-44,"y":-0.92,"s":"b"},{"k":"p","x":-42,"y":-0.81,"s":"b"},{"k":"p","x":-40,"y":-0.65,"s":"b"},{"k":"p","x":-39,"y":-0.55,"s":"b"},{"k":"p","x":-37,"y":-0.30,"s":"b"},{"k":"p","x":-36,"y":-0.20,"s":"b"},{"k":"p","x":-35,"y":-0.09,"s":"b"},{"k":"p","x":-33,"y":0.05,"s":"b"},{"k":"p","x":-32,"y":0.16,"s":"b"},{"k":"p","x":-30,"y":0.35,"s":"b"},{"k":"p","x":-29,"y":0.53,"s":"b"},{"k":"p","x":-27,"y":0.51,"s":"b"},{"k":"p","x":-25,"y":0.72,"s":"b"},{"k":"p","x":-24,"y":0.74,"s":"b"},{"k":"p","x":-22,"y":0.73,"s":"b"},{"k":"p","x":-20,"y":0.62,"s":"b"},{"k":"p","x":-19,"y":0.65,"s":"b"},{"k":"p","x":-17,"y":0.92,"s":"b"},{"k":"p","x":-16,"y":0.96,"s":"b"},{"k":"p","x":-14,"y":1.05,"s":"b"},{"k":"p","x":-12,"y":1.02,"s":"b"},{"k":"p","x":-10,"y":0.97,"s":"b"},{"k":"p","x":-9,"y":1.02,"s":"b"},{"k":"p","x":-7,"y":1.00,"s":"b"},{"k":"p","x":-5,"y":0.98,"s":"b"},{"k":"p","x":-3,"y":0.79,"s":"b"},{"k":"p","x":-1,"y":0.98,"s":"b"},{"k":"p","x":1,"y":1.02,"s":"b"},{"k":"p","x":3,"y":0.97,"s":"b"},{"k":"p","x":5,"y":1.12,"s":"b"},{"k":"p","x":7,"y":0.98,"s":"b"},{"k":"p","x":10,"y":1.23,"s":"b"},{"k":"p","x":12,"y":1.00,"s":"b"},{"k":"p","x":14,"y":1.02,"s":"b"},{"k":"p","x":16,"y":0.98,"s":"b"},{"k":"p","x":18,"y":0.86,"s":"b"},{"k":"p","x":20,"y":1.02,"s":"b"},{"k":"p","x":22,"y":1.10,"s":"b"},{"k":"p","x":24,"y":1.05,"s":"b"},{"k":"p","x":26,"y":1.14,"s":"b"},{"k":"p","x":28,"y":1.14,"s":"b"},{"k":"p","x":30,"y":1.10,"s":"b"},{"k":"p","x":32,"y":1.12,"s":"b"},{"k":"p","x":34,"y":1.16,"s":"b"},{"k":"p","x":36,"y":1.13,"s":"b"},{"k":"p","x":38,"y":1.12,"s":"b"},{"k":"p","x":40,"y":1.10,"s":"b"},{"k":"p","x":42,"y":1.05,"s":"b"},{"k":"p","x":44,"y":1.06,"s":"b"},{"k":"p","x":46,"y":1.00,"s":"b"},{"k":"p","x":48,"y":1.05,"s":"b"},{"k":"p","x":50,"y":1.05,"s":"b"},{"k":"p","x":52,"y":1.03,"s":"b"},{"k":"p","x":54,"y":1.00,"s":"b"},{"k":"p","x":56,"y":0.98,"s":"b"},{"k":"p","x":58,"y":1.05,"s":"b"},{"k":"p","x":60,"y":1.16,"s":"b"},{"k":"p","x":62,"y":1.14,"s":"b"},{"k":"p","x":64,"y":1.14,"s":"b"},{"k":"p","x":66,"y":1.05,"s":"b"},{"k":"p","x":68,"y":1.00,"s":"b"},{"k":"p","x":70,"y":1.05,"s":"b"},{"k":"p","x":72,"y":1.05,"s":"b"},{"k":"p","x":74,"y":1.09,"s":"b"},{"k":"p","x":76,"y":0.92,"s":"b"},{"k":"p","x":78,"y":1.19,"s":"b"},
{"k":"p","x":-78,"y":-1.16,"s":"r"},{"k":"p","x":-76,"y":-0.79,"s":"r"},{"k":"p","x":-74,"y":-0.98,"s":"r"},{"k":"p","x":-72,"y":-1.05,"s":"r"},{"k":"p","x":-70,"y":-1.02,"s":"r"},{"k":"p","x":-68,"y":-0.95,"s":"r"},{"k":"p","x":-66,"y":-1.16,"s":"r"},{"k":"p","x":-64,"y":-1.00,"s":"r"},{"k":"p","x":-62,"y":-0.95,"s":"r"},{"k":"p","x":-60,"y":-0.84,"s":"r"},{"k":"p","x":-58,"y":-1.02,"s":"r"},{"k":"p","x":-56,"y":-1.05,"s":"r"},{"k":"p","x":-54,"y":-1.00,"s":"r"},{"k":"p","x":-52,"y":-0.95,"s":"r"},{"k":"p","x":-50,"y":-1.05,"s":"r"},{"k":"p","x":-48,"y":-1.12,"s":"r"},{"k":"p","x":-46,"y":-1.12,"s":"r"},{"k":"p","x":-44,"y":-1.00,"s":"r"},{"k":"p","x":-42,"y":-0.98,"s":"r"},{"k":"p","x":-40,"y":-1.08,"s":"r"},{"k":"p","x":-38,"y":-1.12,"s":"r"},{"k":"p","x":-36,"y":-1.15,"s":"r"},{"k":"p","x":-34,"y":-1.14,"s":"r"},{"k":"p","x":-32,"y":-1.10,"s":"r"},{"k":"p","x":-30,"y":-0.95,"s":"r"},{"k":"p","x":-28,"y":-1.00,"s":"r"},{"k":"p","x":-26,"y":-1.09,"s":"r"},{"k":"p","x":-24,"y":-1.07,"s":"r"},{"k":"p","x":-22,"y":-0.98,"s":"r"},{"k":"p","x":-20,"y":-0.95,"s":"r"},{"k":"p","x":-18,"y":-0.84,"s":"r"},{"k":"p","x":-16,"y":-1.00,"s":"r"},{"k":"p","x":-14,"y":-1.02,"s":"r"},{"k":"p","x":-12,"y":-1.05,"s":"r"},{"k":"p","x":-10,"y":-1.00,"s":"r"},{"k":"p","x":-9,"y":-1.19,"s":"r"},{"k":"p","x":-6,"y":-1.02,"s":"r"},{"k":"p","x":-4,"y":-0.98,"s":"r"},{"k":"p","x":-2,"y":-0.93,"s":"r"},{"k":"p","x":0,"y":-1.00,"s":"r"},{"k":"p","x":2,"y":-0.95,"s":"r"},{"k":"p","x":4,"y":-0.79,"s":"r"},{"k":"p","x":6,"y":-0.98,"s":"r"},{"k":"p","x":8,"y":-1.02,"s":"r"},{"k":"p","x":10,"y":-0.95,"s":"r"},{"k":"p","x":12,"y":-0.98,"s":"r"},{"k":"p","x":14,"y":-1.00,"s":"r"},{"k":"p","x":16,"y":-1.05,"s":"r"},{"k":"p","x":18,"y":-0.90,"s":"r"},{"k":"p","x":19,"y":-0.65,"s":"r"},{"k":"p","x":21,"y":-0.62,"s":"r"},{"k":"p","x":23,"y":-0.60,"s":"r"},{"k":"p","x":25,"y":-0.56,"s":"r"},{"k":"p","x":27,"y":-0.72,"s":"r"},{"k":"p","x":28,"y":-0.60,"s":"r"},{"k":"p","x":29,"y":-0.51,"s":"r"},{"k":"p","x":31,"y":-0.30,"s":"r"},{"k":"p","x":32,"y":-0.10,"s":"r"},{"k":"p","x":34,"y":0.14,"s":"r"},{"k":"p","x":35,"y":0.25,"s":"r"},{"k":"p","x":37,"y":0.42,"s":"r"},{"k":"p","x":38,"y":0.55,"s":"r"},{"k":"p","x":39,"y":0.63,"s":"r"},{"k":"p","x":41,"y":0.73,"s":"r"},{"k":"p","x":43,"y":0.86,"s":"r"},{"k":"p","x":45,"y":0.90,"s":"r"},{"k":"p","x":47,"y":0.93,"s":"r"},{"k":"p","x":49,"y":0.98,"s":"r"},{"k":"p","x":51,"y":1.00,"s":"r"},{"k":"p","x":53,"y":0.95,"s":"r"},{"k":"p","x":55,"y":0.93,"s":"r"},{"k":"p","x":57,"y":0.98,"s":"r"},{"k":"p","x":59,"y":0.79,"s":"r"},{"k":"p","x":61,"y":0.67,"s":"r"},{"k":"p","x":63,"y":0.85,"s":"r"},{"k":"p","x":65,"y":0.88,"s":"r"},{"k":"p","x":67,"y":0.95,"s":"r"},{"k":"p","x":69,"y":0.93,"s":"r"},{"k":"p","x":71,"y":0.70,"s":"r"},{"k":"p","x":73,"y":0.85,"s":"r"},{"k":"p","x":75,"y":0.72,"s":"r"},{"k":"p","x":77,"y":0.98,"s":"r"},{"k":"p","x":79,"y":0.91,"s":"r"},
{"k":"f","x":-78,"y":-0.97,"s":"b"},{"k":"f","x":-60,"y":-0.97,"s":"b"},{"k":"f","x":-48,"y":-0.96,"s":"b"},{"k":"f","x":-44,"y":-0.92,"s":"b"},{"k":"f","x":-40,"y":-0.70,"s":"b"},{"k":"f","x":-37,"y":-0.35,"s":"b"},{"k":"f","x":-34,"y":0.0,"s":"b"},{"k":"f","x":-31,"y":0.30,"s":"b"},{"k":"f","x":-28,"y":0.55,"s":"b"},{"k":"f","x":-25,"y":0.73,"s":"b"},{"k":"f","x":-22,"y":0.85,"s":"b"},{"k":"f","x":-18,"y":0.95,"s":"b"},{"k":"f","x":-14,"y":1.0,"s":"b"},{"k":"f","x":-10,"y":1.02,"s":"b"},{"k":"f","x":0,"y":1.02,"s":"b"},{"k":"f","x":40,"y":1.02,"s":"b"},{"k":"f","x":70,"y":1.01,"s":"b"},{"k":"f","x":80,"y":1.0,"s":"b"},
{"k":"f","x":-78,"y":-0.97,"s":"r"},{"k":"f","x":-40,"y":-0.97,"s":"r"},{"k":"f","x":0,"y":-0.97,"s":"r"},{"k":"f","x":15,"y":-0.95,"s":"r"},{"k":"f","x":20,"y":-0.90,"s":"r"},{"k":"f","x":25,"y":-0.75,"s":"r"},{"k":"f","x":28,"y":-0.55,"s":"r"},{"k":"f","x":31,"y":-0.20,"s":"r"},{"k":"f","x":34,"y":0.15,"s":"r"},{"k":"f","x":37,"y":0.45,"s":"r"},{"k":"f","x":40,"y":0.70,"s":"r"},{"k":"f","x":43,"y":0.87,"s":"r"},{"k":"f","x":46,"y":0.95,"s":"r"},{"k":"f","x":50,"y":1.0,"s":"r"},{"k":"f","x":60,"y":1.0,"s":"r"},{"k":"f","x":80,"y":1.0,"s":"r"}
]
},
"concat":[
 {"width":245,"height":180,"data":{"name":"a"},
  "mark":{"type":"circle","size":22,"opacity":1},
  "encoding":{
   "x":{"field":"x","type":"quantitative","scale":{"domain":[-100,100],"nice":false,"zero":false},
    "axis":{"values":[-100,-75,-50,-25,0,25,50,75,100],"format":"d","labelExpr":"datum.value % 50 === 0 ? replace(datum.label,'\u2212','-') : ''","tickSize":-4,"labelPadding":10,"labelFontSize":17,"labelFlush":false,"labelOverlap":false,"title":null}},
   "y":{"field":"y","type":"quantitative","scale":{"domain":[-0.25,1.25],"nice":false,"zero":false},
    "axis":{"values":[0,0.25,0.5,0.75,1],"format":".1f","labelExpr":"(datum.value*2) % 1 === 0 ? datum.label : ''","tickSize":-4,"labelPadding":11,"labelFontSize":17,"labelOverlap":false,"title":"(a)","titleFontSize":17,"titleX":-25,"titleY":-10,"titleBaseline":"middle","titleAlign":"center","titleAngle":0}},
   "color":{"field":"s","type":"nominal","scale":{"domain":["b","r"],"range":["#000000","#e8161d"]},"legend":null}}},
 {"width":4,"height":4,"data":{"values":[{"v":0}]},"mark":{"type":"point","opacity":0},
  "encoding":{
   "x":{"field":"v","type":"quantitative","axis":{"title":"Magnetization","titleX":318,"titleY":-14,"labels":false,"ticks":false,"domain":false,"titleBaseline":"middle","titleAlign":"center","titleFontSize":20}},
   "y":{"field":"v","type":"quantitative","axis":{"title":"MSHG response","titleX":-170,"titleY":-10,"titleAngle":0,"labels":false,"ticks":false,"domain":false,"titleBaseline":"middle","titleAlign":"center","titleFontSize":20}}}},
 {"width":250,"height":209,"data":{"name":"tl"},
  "encoding":{
   "x":{"field":"x","type":"quantitative","scale":{"domain":[-100,100],"nice":false,"zero":false},
    "axis":{"orient":"bottom","offset":-87.8,"values":[-100,-75,-50,-25,0,25,50,75,100],"format":"d","labelExpr":"datum.value % 50 === 0 ? replace(datum.label,'\u2212','-') : ''","tickSize":-4,"labelPadding":13,"labelFontSize":18,"labelFlush":false,"labelOverlap":false,"labelOffset":{"condition":[{"test":"datum.value === 50","value":1},{"test":"datum.value === 100","value":-9}],"value":-7},"title":null}},
   "y":{"field":"y","type":"quantitative","scale":{"domain":[-1.29,1.78],"nice":false,"zero":false},
    "axis":{"orient":"left","offset":-125,"domain":false,"values":[-1,-0.5,0,0.5,1],"format":"d","labelExpr":"datum.value % 1 === 0 ? replace(datum.label,'\u2212','-') : ''","tickSize":-4,"labelPadding":6,"labelOffset":-9,"labelFontSize":18,"labelOverlap":false,"title":"Magnetization (arb. units)","titleX":-179,"titleY":242,"titleBaseline":"middle","titleAlign":"center","titleAngle":-90}}},
  "layer":[
   {"transform":[{"filter":"datum.k === 'ax'"}],"mark":{"type":"rule","color":"black","strokeWidth":1},"encoding":{"y2":{"field":"y2"}}},
   {"transform":[{"filter":"datum.k === 'p'"}],"mark":{"type":"circle","size":24,"opacity":1},"encoding":{"color":{"field":"s","type":"nominal","scale":{"domain":["b","r"],"range":["#000000","#e8161d"]},"legend":null}}},
   {"transform":[{"filter":"datum.k === 'f'"}],"mark":{"type":"line","strokeWidth":1.5},"encoding":{"color":{"field":"s","type":"nominal","scale":{"domain":["b","r"],"range":["#000000","#e8161d"]},"legend":null}}}
  ]},
 {"width":251,"height":209,"data":{"name":"tr"},
  "encoding":{
   "x":{"field":"x","type":"quantitative","scale":{"domain":[-100,100],"nice":false,"zero":false},
    "axis":{"orient":"bottom","offset":-87.8,"values":[-100,-75,-50,-25,0,25,50,75,100],"format":"d","labelExpr":"datum.value % 50 === 0 ? replace(datum.label,'\u2212','-') : ''","tickSize":-4,"labelPadding":13,"labelFontSize":18,"labelFlush":false,"labelOverlap":false,"labelOffset":{"condition":[{"test":"datum.value === 50","value":1},{"test":"datum.value === 100","value":-9}],"value":-7},"title":null}},
   "y":{"field":"y","type":"quantitative","scale":{"domain":[-1.29,1.78],"nice":false,"zero":false},
    "axis":{"orient":"left","offset":-125.5,"domain":false,"values":[-1,-0.5,0,0.5,1],"format":"d","labelExpr":"datum.value % 1 === 0 ? replace(datum.label,'\u2212','-') : ''","tickSize":-4,"labelPadding":6,"labelOffset":-9,"labelFontSize":18,"labelOverlap":false,"title":null}}},
  "layer":[
   {"transform":[{"filter":"datum.k === 'ax'"}],"mark":{"type":"rule","color":"black","strokeWidth":1},"encoding":{"y2":{"field":"y2"}}},
   {"transform":[{"filter":"datum.k === 'p'"}],"mark":{"type":"circle","size":24,"opacity":1},"encoding":{"color":{"field":"s","type":"nominal","scale":{"domain":["b","r"],"range":["#000000","#e8161d"]},"legend":null}}},
   {"transform":[{"filter":"datum.k === 'f'"}],"mark":{"type":"line","strokeWidth":1.5},"encoding":{"color":{"field":"s","type":"nominal","scale":{"domain":["b","r"],"range":["#000000","#e8161d"]},"legend":null}}}
  ]},
 {"width":245,"height":180,"data":{"name":"b"},
  "mark":{"type":"circle","size":22,"opacity":1},
  "encoding":{
   "x":{"field":"x","type":"quantitative","scale":{"domain":[-100,100],"nice":false,"zero":false},
    "axis":{"values":[-100,-75,-50,-25,0,25,50,75,100],"format":"d","labelExpr":"datum.value % 50 === 0 ? replace(datum.label,'\u2212','-') : ''","tickSize":-4,"labelPadding":10,"labelFontSize":17,"labelFlush":false,"labelOverlap":false,"title":"Magnetic field (mT)","titleY":52,"titleBaseline":"middle"}},
   "y":{"field":"y","type":"quantitative","scale":{"domain":[-0.25,1.25],"nice":false,"zero":false},
    "axis":{"values":[0,0.25,0.5,0.75,1],"format":".1f","labelExpr":"(datum.value*2) % 1 === 0 ? datum.label : ''","tickSize":-4,"labelPadding":11,"labelFontSize":17,"labelOverlap":false,"title":"MSHG intensity (arb. units)","titleX":-58,"titleY":-11,"titleBaseline":"middle","titleAlign":"center","titleAngle":-90}},
   "color":{"field":"s","type":"nominal","scale":{"domain":["b","r"],"range":["#000000","#e8161d"]},"legend":null}}},
 {"width":4,"height":4,"data":{"values":[{"v":0}]},"mark":{"type":"point","opacity":0},
  "encoding":{
   "y":{"field":"v","type":"quantitative","axis":{"title":"(b)","titleX":-320,"titleY":-11,"titleAngle":0,"labels":false,"ticks":false,"domain":false,"titleBaseline":"middle","titleAlign":"center","titleFontSize":17}}}},
 {"width":250,"height":208,"data":{"name":"bl"},
  "encoding":{
   "x":{"field":"x","type":"quantitative","scale":{"domain":[-100,100],"nice":false,"zero":false},
    "axis":{"orient":"bottom","offset":-87.7,"values":[-100,-75,-50,-25,0,25,50,75,100],"format":"d","labelExpr":"datum.value % 50 === 0 ? replace(datum.label,'\u2212','-') : ''","tickSize":-4,"labelPadding":13,"labelFontSize":18,"labelFlush":false,"labelOverlap":false,"labelOffset":{"condition":[{"test":"datum.value === 50","value":1},{"test":"datum.value === 100","value":-9}],"value":-7},"title":"Magnetic field (mT)","titleX":265,"titleY":112,"titleBaseline":"middle","titleAlign":"center"}},
   "y":{"field":"y","type":"quantitative","scale":{"domain":[-1.29,1.769],"nice":false,"zero":false},
    "axis":{"orient":"left","offset":-125,"domain":false,"values":[-1,-0.5,0,0.5,1],"format":"d","labelExpr":"datum.value % 1 === 0 ? replace(datum.label,'\u2212','-') : ''","tickSize":-4,"labelPadding":6,"labelOffset":-9,"labelFontSize":18,"labelOverlap":false,"title":null}}},
  "layer":[
   {"transform":[{"filter":"datum.k === 'ax'"}],"mark":{"type":"rule","color":"black","strokeWidth":1},"encoding":{"y2":{"field":"y2"}}},
   {"transform":[{"filter":"datum.k === 'p'"}],"mark":{"type":"circle","size":24,"opacity":1},"encoding":{"color":{"field":"s","type":"nominal","scale":{"domain":["b","r"],"range":["#000000","#e8161d"]},"legend":null}}},
   {"transform":[{"filter":"datum.k === 'f'"}],"mark":{"type":"line","strokeWidth":1.5},"encoding":{"color":{"field":"s","type":"nominal","scale":{"domain":["b","r"],"range":["#000000","#e8161d"]},"legend":null}}}
  ]},
 {"width":259,"height":208,"data":{"name":"br"},
  "encoding":{
   "x":{"field":"x","type":"quantitative","scale":{"domain":[-100,100],"nice":false,"zero":false},
    "axis":{"orient":"bottom","offset":-90.3,"values":[-100,-75,-50,-25,0,25,50,75,100],"format":"d","labelExpr":"datum.value % 50 === 0 ? replace(datum.label,'\u2212','-') : ''","tickSize":-4,"labelPadding":13,"labelFontSize":18,"labelFlush":false,"labelOverlap":false,"labelOffset":{"condition":[{"test":"datum.value === 50","value":1},{"test":"datum.value === 100","value":-12}],"value":-7},"title":null}},
   "y":{"field":"y","type":"quantitative","scale":{"domain":[-1.254,1.635],"nice":false,"zero":false},
    "axis":{"orient":"left","offset":-129.5,"domain":false,"values":[-1,-0.5,0,0.5,1],"format":"d","labelExpr":"datum.value % 1 === 0 ? replace(datum.label,'\u2212','-') : ''","tickSize":-4,"labelPadding":6,"labelOffset":-9,"labelFontSize":18,"labelOverlap":false,"title":null}}},
  "layer":[
   {"transform":[{"filter":"datum.k === 'ax'"}],"mark":{"type":"rule","color":"black","strokeWidth":1},"encoding":{"y2":{"field":"y2"}}},
   {"transform":[{"filter":"datum.k === 'p'"}],"mark":{"type":"circle","size":24,"opacity":1},"encoding":{"color":{"field":"s","type":"nominal","scale":{"domain":["b","r"],"range":["#000000","#e8161d"]},"legend":null}}},
   {"transform":[{"filter":"datum.k === 'f'"}],"mark":{"type":"line","strokeWidth":1.5},"encoding":{"color":{"field":"s","type":"nominal","scale":{"domain":["b","r"],"range":["#000000","#e8161d"]},"legend":null}}}
  ]}
],
"columns":4,
"spacing":{"row":34,"column":50},
"bounds":"flush",
"align":"each"
}
